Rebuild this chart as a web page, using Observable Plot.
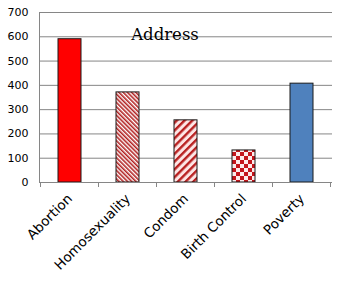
<!DOCTYPE html>
<html>
<head>
<meta charset="utf-8">
<script src="https://cdn.jsdelivr.net/npm/d3@7"></script>
<script src="https://cdn.jsdelivr.net/npm/@observablehq/plot@0.6"></script>
<style>
  html, body { margin: 0; padding: 0; background: #fff; }
  svg { display: block; }
</style>
</head>
<body>
<div id="chart"></div>
<script>
const categories = ["Abortion", "Homosexuality", "Condom", "Birth Control", "Poverty"];
const values = [590, 371, 256, 132, 407];
const fills = ["#ff0000", "url(#p-hatch)", "url(#p-stripe)", "url(#p-check)", "#4f81bd"];
const yTicks = [0, 100, 200, 300, 400, 500, 600, 700];
const title = "Address";

const data = categories.map((c, i) => ({category: c, value: values[i], fill: fills[i]}));

const W = 341, H = 281;
const chart = Plot.plot({
  width: W,
  height: H,
  marginLeft: 39,
  marginRight: 9,
  marginTop: 12,
  marginBottom: 99,
  style: {fontFamily: "DejaVu Sans, Verdana, sans-serif", background: "#fff", color: "#000"},
  x: {domain: categories, paddingInner: 0.6, paddingOuter: 0.3, label: null},
  y: {domain: [0, 700], ticks: yTicks, label: null},
  color: {type: "identity"},
  marks: [
    Plot.gridY(yTicks, {stroke: "#868686", strokeOpacity: 1}),
    Plot.frame({anchor: "left", stroke: "#868686"}),
    Plot.axisY(yTicks, {tickSize: 0, tickPadding: 11, fontSize: 11, label: null}),
    Plot.axisX({tickSize: 0, tickPadding: 14, tickRotate: -45, fontSize: 13.5, label: null}),
    Plot.barY(data, {x: "category", y: "value", fill: "fill", stroke: "#1a1a1a", strokeWidth: 1}),
    Plot.ruleY([0], {stroke: "#868686"}),
    Plot.text([title], {frameAnchor: "top", dx: -21, dy: 27, fontFamily: "DejaVu Serif, serif", fontSize: 16.5, fill: "#000", lineAnchor: "bottom"})
  ]
});

d3.select(chart).insert("defs", ":first-child").html(`
  <pattern id="p-hatch" patternUnits="userSpaceOnUse" width="3" height="3" patternTransform="rotate(-45)">
    <rect width="3" height="3" fill="#ffffff"/>
    <rect width="1.6" height="3" fill="#b22222"/>
  </pattern>
  <pattern id="p-stripe" patternUnits="userSpaceOnUse" width="5.5" height="5.5" patternTransform="rotate(45)">
    <rect width="5.5" height="5.5" fill="#fde6e6"/>
    <rect width="2.4" height="5.5" fill="#b82020"/>
  </pattern>
  <pattern id="p-check" patternUnits="userSpaceOnUse" width="8" height="8">
    <rect width="8" height="8" fill="#fdecec"/>
    <rect width="4" height="4" fill="#c4161c"/>
    <rect x="4" y="4" width="4" height="4" fill="#c4161c"/>
  </pattern>
`);

// category boundary tick marks on the x axis, from the plot's own scales
const xs = chart.scale("x"), ys = chart.scale("y");
const y0 = ys.apply(0);
const bounds = categories.map(c => xs.apply(c) + xs.bandwidth / 2 - xs.step / 2);
bounds.push(bounds[bounds.length - 1] + xs.step);
d3.select(chart).append("g")
  .selectAll("line").data(bounds).join("line")
  .attr("x1", d => d).attr("x2", d => d)
  .attr("y1", y0).attr("y2", y0 + 5)
  .attr("stroke", "#868686");

document.getElementById("chart").appendChild(chart);
</script>
</body>
</html>
